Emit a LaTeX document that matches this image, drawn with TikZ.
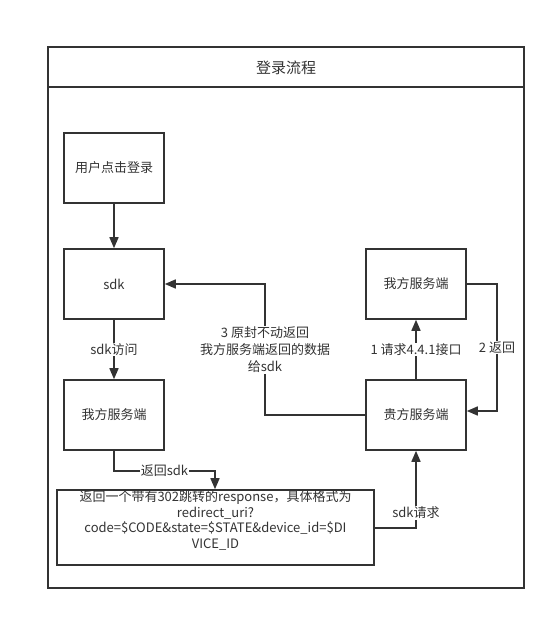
\documentclass[tikz,border=0pt]{standalone}
\usepackage{fontspec}
\setmainfont{Noto Sans CJK SC}
\usetikzlibrary{arrows.meta}
\definecolor{ink}{HTML}{333333}
\begin{document}
\begin{tikzpicture}[x=1pt,y=-1pt,
  every node/.style={font=\fontsize{13}{16}\selectfont, text=ink},
  box/.style={draw=ink, line width=1.6pt, minimum width=100pt, minimum height=70pt, inner sep=0pt},
  conn/.style={draw=ink, line width=1.6pt, -{Triangle[length=11pt,width=9pt]}},
  lab/.style={fill=white, inner sep=1pt, align=center}]
\useasboundingbox (0,0) rectangle (556,620);
\fill[white] (0,0) rectangle (556,620);
% frame
\draw[ink, line width=1.6pt] (48,47) rectangle (524,588);
\draw[ink, line width=1.6pt] (48,87) -- (524,87);
\node (title) at (286,68) {\fontsize{15}{18}\selectfont 登录流程};
% boxes
\node[box] (user) at (114,168) {用户点击登录};
\node[box] (sdk) at (114,284) {sdk};
\node[box] (ours) at (114,415) {我方服务端};
\node[box] (oursR) at (416,284) {我方服务端};
\node[box] (yours) at (416,415) {贵方服务端};
\node[draw=ink, line width=1.6pt, minimum width=317pt, minimum height=75pt, inner sep=0pt] (resp) at (215.5,527.5) {};
\node[align=center, inner sep=0pt, font=\fontsize{13}{15.7}\selectfont] (resptext) at (215.5,520.5) {返回一个带有302跳转的response，具体格式为\\redirect\_uri?\\code=\$CODE\&state=\$STATE\&device\_id=\$DI\\VICE\_ID};
% connectors
\draw[conn] (user.south) -- (sdk.north);
\draw[conn] (sdk.south) -- node[lab] {sdk访问} (ours.north);
\coordinate (c1) at (114,471);
\coordinate (c2) at (215,471);
\draw[conn] (ours.south) -- (c1) -- node[lab, pos=0.5] {返回sdk} (c2) -- (resp.north -| c2);
\coordinate (c3) at (416,528);
\draw[conn] (resp.east |- c3) -- (c3) -- node[lab, pos=0.2] {sdk请求} (yours.south);
\draw[conn] (yours.north) -- node[lab] {1 请求4.4.1接口} (oursR.south);
\coordinate (c4) at (497,284);
\coordinate (c5) at (497,411);
\draw[conn] (oursR.east |- c4) -- (c4) -- node[lab] {2 返回} (c5) -- (yours.east |- c5);
\coordinate (c6) at (265,415);
\coordinate (c7) at (265,284);
\draw[conn] (yours.west) -- (c6) -- node[lab, pos=0.5, font=\fontsize{13}{17}\selectfont] {3 原封不动返回\\我方服务端返回的数据\\给sdk} (c7) -- (sdk.east);
\end{tikzpicture}
\end{document}
